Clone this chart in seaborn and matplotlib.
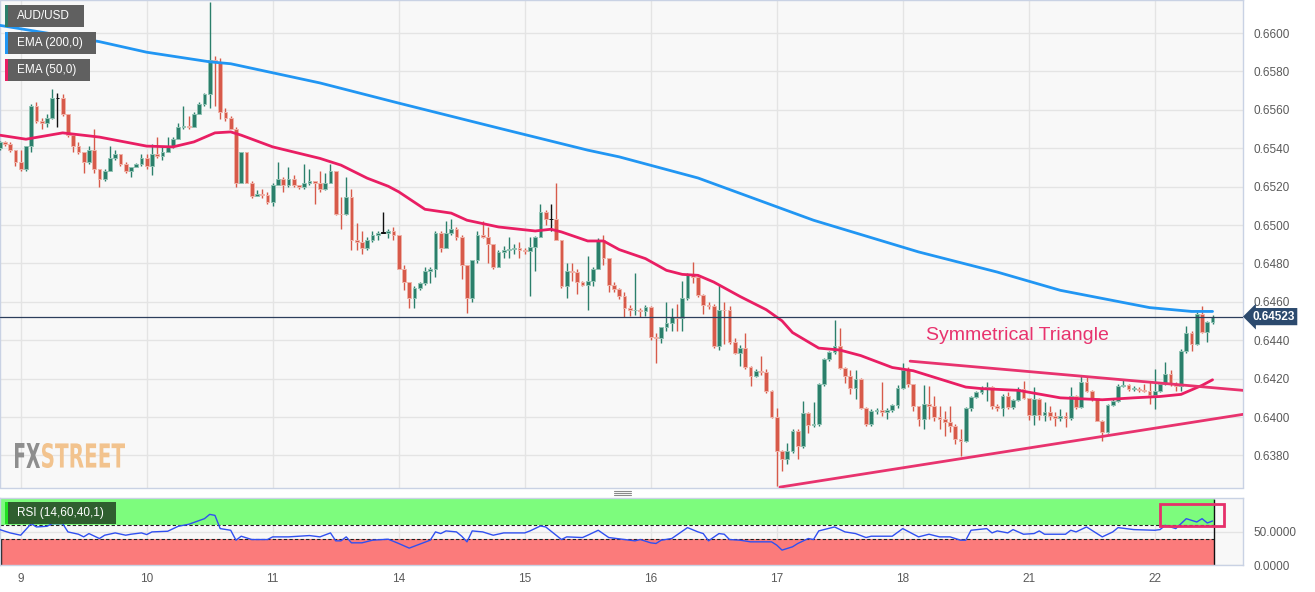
import numpy as np
import matplotlib
matplotlib.use("Agg")
import matplotlib.pyplot as plt
import matplotlib.transforms as mtransforms
from matplotlib.patches import Rectangle, PathPatch
from matplotlib.lines import Line2D
from matplotlib.textpath import TextPath
from matplotlib.font_manager import FontProperties
import seaborn as sns

# AUD/USD hourly candles, prices in pips (x 0.0001); bar 0 = start of day 9
first_bar = -4
first_open = 6540
closes = [
    6543, 6542, 6539, 6533, 6529, 6541, 6562, 6554, 6553, 6556, 6566, 6566,
    6558, 6547, 6541, 6538, 6533, 6539, 6529, 6524, 6528, 6535, 6537, 6532,
    6528, 6530, 6532, 6535, 6531, 6537, 6536, 6538, 6541, 6545, 6551, 6551.5,
    6551, 6558, 6563, 6568, 6586, 6585, 6559, 6556, 6550, 6522, 6538, 6522,
    6515, 6516, 6515.5, 6512, 6521, 6524, 6521, 6524, 6521, 6520, 6522, 6523,
    6522, 6519, 6522, 6528, 6506, 6505.5, 6514.5, 6492, 6491, 6488, 6492, 6495,
    6496, 6496, 6497, 6495, 6477, 6470.5, 6462, 6467, 6470, 6476, 6477, 6496,
    6488, 6496, 6498, 6494, 6479, 6462, 6482, 6495, 6494, 6490, 6478, 6486,
    6487, 6487.5, 6488, 6487, 6486.5, 6488.5, 6494, 6507, 6503, 6503, 6492, 6468,
    6476, 6475.5, 6470.5, 6469, 6471, 6477, 6492, 6483, 6469, 6466.5, 6463, 6457,
    6455.5, 6456, 6455, 6457.5, 6441.5, 6441, 6447, 6449, 6452, 6451.5, 6462, 6474,
    6473, 6463.7, 6458.5, 6457.6, 6437, 6456, 6455.5, 6439, 6433.4, 6436, 6426, 6421.6,
    6424, 6423.3, 6413.5, 6400.2, 6382.4, 6378, 6382.4, 6392.7, 6385, 6402.2, 6395.7, 6396.5,
    6417, 6430, 6433.7, 6437.2, 6425.6, 6421.3, 6415.2, 6419.9, 6404.8, 6396.2, 6403.1, 6403.6,
    6402.6, 6403.6, 6406.2, 6415.2, 6424.5, 6417, 6405.5, 6399, 6406.7, 6405.8, 6399.8, 6398.9,
    6397.2, 6395.5, 6388.5, 6387.7, 6404.6, 6410.2, 6412.8, 6414.5, 6415.4, 6405.5, 6404.6, 6411,
    6405, 6409, 6414.5, 6409.7, 6401, 6409.3, 6401, 6402.7, 6400.3, 6399.6, 6400.7, 6399.3,
    6411, 6405, 6418.3, 6413.6, 6409.7, 6398.1, 6392.4, 6406.2, 6408.4, 6416.2, 6416.6, 6414.5,
    6414.8, 6414.2, 6413.5, 6411.4, 6413.6, 6417.1, 6422.3, 6417.1, 6416.2, 6434.4, 6443.9, 6437.9,
    6453.9, 6444.4, 6449.4, 6452.3,
]
highs = [
    6544, 6544, 6543, 6539, 6539, 6541, 6563, 6564, 6556, 6558, 6571, 6569,
    6568, 6558, 6547, 6543, 6538, 6541, 6550, 6529, 6529, 6541, 6539, 6537,
    6533, 6530, 6532.4, 6537, 6537, 6542, 6546, 6541, 6546, 6546, 6553, 6562,
    6557, 6559, 6564, 6569, 6616, 6588, 6587, 6561, 6557, 6551, 6538, 6538,
    6523, 6518, 6519, 6517, 6522, 6533, 6525, 6530, 6526, 6521, 6532, 6529,
    6523, 6528, 6527, 6532, 6528, 6514.5, 6525, 6519, 6501, 6497, 6494, 6497,
    6497, 6507, 6498, 6499, 6495, 6479, 6470, 6468, 6470.5, 6478, 6478, 6497,
    6497, 6502, 6503, 6499, 6495, 6479, 6482, 6497, 6502, 6499, 6490, 6487,
    6489, 6494, 6490, 6491, 6488, 6494, 6494.5, 6511, 6508, 6511, 6522, 6492,
    6480, 6480, 6477, 6471, 6484, 6478, 6493, 6494.7, 6483, 6470.5, 6467, 6465,
    6458.5, 6475, 6457, 6458.5, 6458, 6444, 6447, 6460, 6457, 6459, 6470.6, 6475,
    6480.6, 6474, 6464, 6460, 6459, 6469, 6460, 6458, 6441, 6437.7, 6444, 6426.5,
    6425, 6432, 6425, 6414, 6404.8, 6383, 6386.7, 6393.6, 6393.6, 6408.3, 6402.5, 6407.8,
    6417.5, 6431, 6434.2, 6450.3, 6446.5, 6426, 6424.7, 6424.7, 6420.4, 6405, 6404, 6404.8,
    6418.2, 6404.5, 6407, 6416.5, 6428, 6426, 6417, 6406, 6416.6, 6416.2, 6411, 6405.8,
    6403.3, 6405.8, 6396.3, 6393.7, 6405, 6411, 6413.6, 6416.2, 6418, 6416.2, 6406.7, 6411.9,
    6412.8, 6409.3, 6415.4, 6418.8, 6409.7, 6415.4, 6409.7, 6407.6, 6405.8, 6402.4, 6404.1, 6402.7,
    6415.4, 6411.4, 6421.8, 6421.1, 6414.2, 6409.9, 6398.4, 6406.7, 6409.3, 6417.1, 6420, 6417.1,
    6416.2, 6415.9, 6417.1, 6418, 6424.9, 6418, 6428.7, 6424.5, 6418, 6435.3, 6447.4, 6444.8,
    6454.6, 6457.8, 6450, 6453,
]
lows = [
    6539, 6541, 6538, 6531, 6528, 6528, 6538, 6553, 6550, 6551, 6555, 6551,
    6557, 6546, 6538, 6537, 6527, 6532, 6527, 6520, 6523, 6528, 6534, 6531,
    6527, 6525, 6530, 6531, 6529, 6526, 6535, 6534, 6538, 6540, 6545, 6550,
    6550, 6551, 6558, 6562, 6561, 6562, 6555, 6554, 6550, 6520, 6522, 6522,
    6514, 6515, 6514, 6511, 6510, 6521, 6517, 6520, 6520, 6519, 6519, 6521,
    6511, 6517, 6518, 6522, 6505, 6498, 6505, 6487, 6487, 6485, 6487, 6491,
    6492, 6496, 6493, 6492, 6477, 6466, 6457, 6457, 6466, 6469, 6470, 6473,
    6486, 6488, 6495, 6492, 6472, 6454, 6460, 6480, 6493, 6480, 6477, 6478,
    6483, 6483, 6485, 6483, 6485, 6463, 6476, 6494, 6500, 6497, 6492, 6467,
    6462, 6471, 6464, 6468, 6456, 6468, 6477, 6479, 6465, 6465, 6461.5, 6452,
    6452.5, 6453, 6452, 6452.5, 6440, 6428, 6438.6, 6445, 6445, 6444.6, 6445, 6461,
    6470, 6462.5, 6453.8, 6456.5, 6436, 6435, 6438, 6438, 6433, 6426.8, 6425, 6416,
    6420.7, 6422, 6412.6, 6399.7, 6364.2, 6372, 6375.5, 6381.5, 6378.4, 6384, 6391.9, 6394.6,
    6395.5, 6416, 6429, 6433, 6425, 6417.8, 6412, 6409.2, 6404, 6395.3, 6395.3, 6401.5,
    6400.5, 6399, 6402.5, 6404.5, 6414.5, 6415.5, 6403, 6395.5, 6393.7, 6398.9, 6398.1, 6393.7,
    6390.3, 6392, 6386, 6379.9, 6386.8, 6403, 6409.7, 6411.9, 6408.4, 6404.1, 6403.3, 6400.7,
    6404.1, 6404.1, 6408.4, 6409.3, 6398.6, 6395.8, 6398.6, 6398.1, 6398.6, 6395.5, 6398.1, 6394.6,
    6398.6, 6404.1, 6404.5, 6413, 6408.4, 6397.7, 6387.7, 6391.5, 6405.5, 6407.6, 6415.4, 6413.6,
    6413.6, 6412.8, 6412.8, 6406.7, 6404.1, 6412.8, 6416.6, 6416.2, 6413.6, 6413.6, 6433.5, 6434.4,
    6437.5, 6443.9, 6439.1, 6448.2,
]

# EMA lines (bar, pips)
ema200_bar = [-4, 15, 24, 36, 40, 57, 72, 91, 108, 114, 129, 151, 171, 186, 198, 215, 223, 227]
ema200_px = [6604, 6595.5, 6590, 6585, 6584, 6574, 6563.5, 6550.5, 6539, 6535.5, 6524.5,
             6502.5, 6486, 6475.5, 6466, 6457, 6455, 6455]
ema50_bar = [-4, 1, 8, 15, 24, 29, 33, 37, 40, 42, 48, 57, 61, 66, 70, 72, 77, 82, 85, 91,
             98, 101, 103, 108, 111, 114, 119, 123, 126, 129, 132, 137, 142, 145, 147, 152,
             156, 160, 166, 170, 180, 183, 190, 198, 206, 212, 217, 221, 225, 227]
ema50_px = [6546.8, 6544.7, 6548, 6545.8, 6541.1, 6540.7, 6543.3, 6548, 6548.5, 6546.8,
            6540.7, 6534.7, 6531.2, 6524.4, 6520.2, 6517.3, 6508.2, 6506.2, 6502.5, 6499,
            6496.9, 6497.8, 6496.4, 6491.7, 6491.7, 6487.2, 6482.5, 6476.4, 6474.3, 6473.8,
            6470.3, 6462.8, 6455.9, 6450.1, 6444, 6435.9, 6434.9, 6432, 6425.8, 6424.1,
            6415.6, 6414.8, 6413.9, 6410, 6409, 6410, 6410.7, 6411.8, 6416.5, 6419.4]

# symmetrical triangle trendlines (bar, pips)
tri_upper_bar = [169.4, 232.8]
tri_upper_px = [6429.1, 6413.9]
tri_lower_bar = [144.6, 232.8]
tri_lower_px = [6363.5, 6401.4]

# RSI (14)
rsi_bar = [-4, -2, 0, 2, 3, 5, 6, 8, 9, 11, 12, 13, 15, 16, 18, 20, 21, 23, 24, 25, 28, 30,
           32, 35, 36, 37, 38, 40, 41, 42, 44, 47, 48, 51, 55, 57, 59, 60, 61, 62, 63, 65,
           67, 70, 72, 74, 76, 78, 79, 80, 81, 83, 84, 85, 86, 88, 90, 92, 96, 97, 99, 100,
           103, 104, 107, 108, 110, 112, 115, 117, 118, 120, 121, 122, 124, 127, 129, 130,
           131, 133, 134, 135, 137, 139, 143, 144, 145, 147, 148, 150, 151, 152, 155, 157,
           159, 161, 162, 166, 168, 171, 173, 175, 177, 179, 180, 181, 184, 185, 186, 188,
           189, 191, 193, 194, 195, 197, 199, 200, 201, 203, 204, 206, 208, 209, 212, 216,
           217, 218, 220, 221, 222, 224, 225, 226, 227]
rsi_val = [53.5, 48.5, 45, 62.5, 57.5, 58.5, 62.5, 62.5, 50, 46.5, 42.5, 47.5, 40, 45, 48.5,
           45, 46.5, 48.5, 46, 50, 51, 58.5, 61.5, 70, 76.5, 75, 55, 52.5, 37.5, 43.5, 38.5,
           38.5, 42.5, 42.5, 44.5, 42.5, 48.5, 36.5, 36.5, 42.5, 33.5, 33.5, 37.5, 39, 32.5,
           25.5, 31.5, 37.5, 50, 47.5, 51.5, 50, 43.5, 35, 51.5, 50, 45, 48.5, 48.5, 51.5, 59,
           57.5, 38.5, 42.5, 41.5, 45, 52.5, 41.5, 38.5, 36.5, 38.5, 33.5, 32.5, 37.5, 40,
           56.5, 50, 47.5, 36.5, 47.5, 46.5, 38.5, 37.5, 35, 35, 30, 22.5, 27.5, 32.5, 40,
           38.5, 51.5, 57.5, 50, 47.5, 41.5, 43.5, 43.5, 55, 42.5, 46.5, 42.5, 42.5, 37.5,
           37.5, 52.5, 55, 48.5, 51.5, 48.5, 53.5, 46.5, 47.5, 51.5, 46.5, 46.5, 46.5, 52.5,
           50, 57.5, 52.5, 42.5, 50, 56.5, 53.5, 52.5, 53.5, 60, 55, 62.5, 70, 65, 70, 63.5,
           66.5]

day_bars = [0, 24, 48, 72, 96, 120, 144, 168, 192, 216]
day_names = ["9", "10", "11", "14", "15", "16", "17", "18", "21", "22"]
price_ticks = [0.6380, 0.6400, 0.6420, 0.6440, 0.6460, 0.6480, 0.6500, 0.6520, 0.6540,
               0.6560, 0.6580, 0.6600]
last_price = 0.64523

GREEN = "#2b7f6b"
RED = "#d75a4a"
BLUE = "#2196f3"
PINK = "#e91e63"
GRID = "#e4e4e4"
SPINE = "#c9d2e4"
TICK = "#5a5a5a"

sns.set_theme(style="whitegrid")
plt.rcParams["font.family"] = ["Liberation Sans", "DejaVu Sans"]

W, H = 1315, 592
fig = plt.figure(figsize=(W / 100, H / 100), dpi=100)
ax = fig.add_axes([0.0, 1 - 487.5 / H, 1243 / W, 487.5 / H])
ax2 = fig.add_axes([0.0, 1 - 565 / H, 1243 / W, 67.5 / H])

x_lim = (-3.94, 232.8)

# ---- candles
c = np.array(closes) / 1e4
hi = np.array(highs) / 1e4
lo = np.array(lows) / 1e4
o = np.r_[first_open / 1e4, c[:-1]]
bars = np.arange(first_bar, first_bar + len(c))
cols = np.where(c > o, GREEN, np.where(c < o, RED, "#111111"))
edge = np.where(c > o, "#8fc2b3", np.where(c < o, "#efb2a8", "#111111"))

ax.vlines(bars, lo, hi, colors=cols, linewidth=1, zorder=3)
ax.bar(bars, np.maximum(np.abs(c - o), 0.00004), bottom=np.minimum(o, c), width=0.72,
       color=cols, edgecolor=edge, linewidth=0.7, zorder=4)

sns.lineplot(x=ema200_bar, y=np.array(ema200_px) / 1e4, ax=ax, color=BLUE, linewidth=2,
             zorder=5)
sns.lineplot(x=ema50_bar, y=np.array(ema50_px) / 1e4, ax=ax, color=PINK, linewidth=2,
             zorder=5)
ax.plot(tri_upper_bar, np.array(tri_upper_px) / 1e4, color="#e8336e", linewidth=2, zorder=6)
ax.plot(tri_lower_bar, np.array(tri_lower_px) / 1e4, color="#e8336e", linewidth=2, zorder=6)
ax.axhline(last_price, color="#2c3e5c", linewidth=0.9, zorder=6)

ax.text(172.4, 0.64400, "Symmetrical Triangle", color="#e8336e", fontsize=14,
        va="baseline", ha="left", zorder=7)

ax.set_xlim(*x_lim)
ax.set_ylim(0.63633, 0.66172)
ax.set_facecolor("#f8f8f8")
ax.set_xticks(day_bars)
ax.set_yticks(price_ticks)
ax.yaxis.tick_right()
ax.set_yticklabels(["%.4f" % p for p in price_ticks])
ax.tick_params(axis="x", labelbottom=False, length=0)
ax.tick_params(axis="y", length=0, pad=7.5, labelsize=8.5, labelcolor=TICK)
ax.grid(True, color=GRID, linewidth=1)
for s in ax.spines.values():
    s.set_color(SPINE)
    s.set_linewidth(1)
ax.set_xlabel("")
ax.set_ylabel("")

# last price tag
tr = mtransforms.blended_transform_factory(ax.transAxes, ax.transData)
ax.text(1.0075, last_price, "0.64523", transform=tr, ha="left", va="center", color="white",
        fontsize=8.5, fontweight="bold", clip_on=False, zorder=8,
        bbox=dict(boxstyle="larrow,pad=0.22", fc="#2c4a6e", ec="none"))

# ---- RSI panel
band_end = 227.3
ax2.fill_between([x_lim[0], band_end], 60, 100, color="#7dfc7d", zorder=1, linewidth=0)
ax2.fill_between([x_lim[0], band_end], 0, 40, color="#fb7b7b", zorder=1, linewidth=0)
ax2.hlines([40, 60], x_lim[0], band_end, colors="#222222", linestyles=(0, (3, 2)),
           linewidth=0.8, zorder=2)
ax2.vlines(band_end, 0, 100, colors="#111111", linewidth=1, zorder=2)
ax2.vlines(x_lim[0] + 0.1, 0, 40, colors="#111111", linewidth=1, zorder=2)
sns.lineplot(x=rsi_bar, y=rsi_val, ax=ax2, color="#3050f0", linewidth=1, zorder=4)
ax2.add_patch(Rectangle((217, 58.5), 12.2, 33, fill=False, edgecolor="#e6306a",
                        linewidth=2, clip_on=False, zorder=5))

ax2.set_xlim(*x_lim)
ax2.set_ylim(0, 102)
ax2.set_facecolor("#f8f8f8")
ax2.set_xticks(day_bars)
ax2.set_xticklabels(day_names)
ax2.set_yticks([0, 50])
ax2.yaxis.tick_right()
ax2.set_yticklabels(["0.0000", "50.0000"])
ax2.tick_params(axis="x", length=0, pad=6, labelsize=8.5, labelcolor=TICK)
ax2.tick_params(axis="y", length=0, pad=7.5, labelsize=8.5, labelcolor=TICK)
ax2.grid(True, color=GRID, linewidth=1)
for s in ax2.spines.values():
    s.set_color(SPINE)
    s.set_linewidth(1)
ax2.set_xlabel("")
ax2.set_ylabel("")


# ---- overlay labels (pixel layout, origin top-left)
def box(x0, y0, w, h, color):
    fig.add_artist(Rectangle((x0 / W, 1 - (y0 + h) / H), w / W, h / H,
                             transform=fig.transFigure, facecolor=color,
                             edgecolor="none", zorder=10))


def label(x0, y0, w, h, stripe, text, fc="#606060"):
    box(x0, y0, w, h, fc)
    box(x0, y0, 3, h, stripe)
    fig.text((x0 + 12) / W, 1 - (y0 + h / 2) / H, text, color="white", fontsize=8.5,
             va="center", ha="left", zorder=11)


label(5, 5, 79, 22, GREEN, "AUD/USD")
label(5, 32, 91, 22, BLUE, "EMA (200,0)")
label(5, 59, 85, 22, PINK, "EMA (50,0)")
label(5, 502, 111, 22, "#22e022", "RSI (14,60,40,1)", fc="#2f5f2f")


def logo(s, x0, x1, y0, y1, color):
    tp = TextPath((0, 0), s, size=100,
                  prop=FontProperties(family="DejaVu Sans", weight="bold"))
    bb = tp.get_extents()
    t = (mtransforms.Affine2D().translate(-bb.x0, -bb.y0)
         .scale((x1 - x0) / bb.width / W, (y1 - y0) / bb.height / H)
         .translate(x0 / W, 1 - y1 / H) + fig.transFigure)
    fig.add_artist(PathPatch(tp, transform=t, facecolor=color, edgecolor="none",
                             zorder=9))


logo("FX", 15, 40, 443, 468, "#8e8e8e")
logo("STREET", 42, 125, 443, 468, "#f2c38e")

for yy in (491, 493, 495):
    fig.add_artist(Line2D([614 / W, 631 / W], [1 - yy / H, 1 - yy / H],
                          transform=fig.transFigure, color="#8a8a8a", linewidth=0.8))

fig.savefig("out.png", dpi=100, facecolor="white")
